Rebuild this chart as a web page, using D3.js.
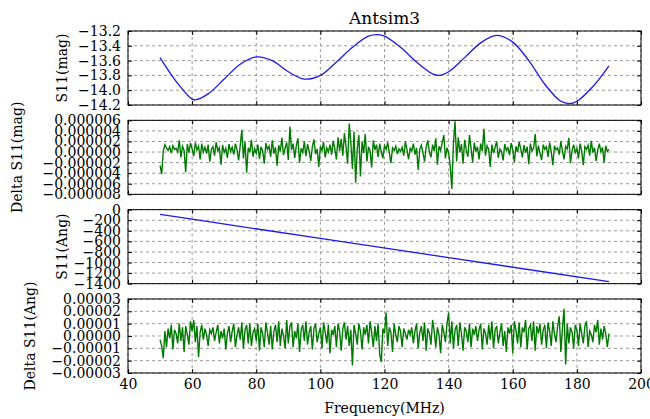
<!DOCTYPE html>
<html>
<head>
<meta charset="utf-8">
<script src="https://cdn.jsdelivr.net/npm/d3@7"></script>
<style>
  body { margin: 0; background: #fff; }
  text { font-family: "DejaVu Serif", serif; }
</style>
</head>
<body>
<div class="chart"></div>
<script>
// data
const xTicks = [40, 60, 80, 100, 120, 140, 160, 180, 200];

// S11 magnitude
const magFreq = [50, 55, 60, 61, 65, 70, 75, 80, 85, 90, 95, 100, 105, 110, 115, 118, 120, 125,
  130, 135, 137, 140, 145, 150, 155, 160, 165, 170, 175, 178, 180, 185, 190];
const magValues = [-13.56, -13.88, -14.12, -14.13, -14.05, -13.85, -13.65, -13.55, -13.60, -13.75,
  -13.85, -13.80, -13.62, -13.42, -13.27, -13.25, -13.27, -13.42, -13.62, -13.78, -13.80, -13.75,
  -13.56, -13.36, -13.26, -13.35, -13.60, -13.92, -14.15, -14.18, -14.15, -13.95, -13.67];
const magTicks = [-13.2, -13.4, -13.6, -13.8, -14.0, -14.2];

// S11 phase
const angFreq = [50, 60, 100, 140, 190];
const angValues = [-90, -181, -544, -907, -1360];
const angTicks = [0, -200, -400, -600, -800, -1000, -1200, -1400];

// residuals, sampled every 0.5 MHz from 50 to 190
const noiseFreq = d3.range(281).map(i => 50 + i * 0.5);

// Delta S11(mag), in units of 1e-6
const deltaMagE6 = [
  -2.5, -4.2, 0.2, 1.4, 0.8, 0.3, 1.0, -0.2, 1.2, 0.5, 0.7, 0.0, 2.2, -1.0, 1.1, 0.3, -3.8, 1.5, -0.1, 1.7,
  0.6, -0.8, 1.8, 0.4, 1.1, -1.4, 1.6, 0.0, 0.9, -0.3, 1.4, -1.8, 0.5, 1.0, -0.7, 1.9, 0.2, 0.8, -2.4, 1.3,
  -0.1, 0.7, -1.1, 1.5, 0.1, 0.9, -0.5, 1.6, 0.4, -1.6, 1.2, 4.2, -1.2, 2.0, -3.9, 0.8, 0.0, 2.3, -0.9, 0.6,
  -0.2, 1.4, -1.3, 1.0, 0.2, -2.2, 1.7, 0.5, 1.1, -0.9, 2.2, -0.3, 0.9, -2.6, 1.3, 0.1, 2.7, -0.6, 0.8, 1.8,
  -1.5, 4.8, 0.4, 1.6, -1.1, 1.2, 2.6, -2.0, 0.7, -0.1, 2.0, -0.8, 1.5, 0.2, -1.7, 1.0, 2.4, -0.4, 0.6, -2.8,
  1.1, 0.3, 1.9, -1.0, 0.8, 0.0, 1.4, -0.5, 2.1, 0.6, -1.4, 2.8, 0.2, 2.5, -0.7, 3.6, 1.0, -2.2, 5.4, 1.8,
  -3.2, 3.9, -5.8, 0.6, 3.2, -4.6, 2.0, -0.2, 3.4, -1.8, 1.0, 0.2, -2.9, 2.2, 0.4, 1.4, -0.9, 1.6, 0.0, -1.2,
  1.2, 0.5, 1.8, -0.1, -2.1, 0.8, 0.3, 1.1, -0.4, 0.6, 0.1, 0.9, -0.7, 2.0, 0.4, -1.4, 0.7, 0.2, 1.6, -0.5,
  0.8, -3.4, 0.5, 1.3, -0.2, -1.8, 1.0, 2.2, 0.0, -1.0, 1.4, 0.2, 2.6, -2.4, 1.1, 0.3, 1.8, 3.2, -1.2, 0.8,
  -0.1, -2.6, -7.0, 1.6, 5.8, -1.8, 2.8, 0.0, 1.5, -2.2, 2.3, 0.4, -0.9, 3.2, 0.7, -2.0, 1.8, 0.1, 1.0, -1.4,
  1.6, 0.2, 4.4, -0.7, 1.2, 0.5, -2.8, 1.4, -0.2, 0.9, 2.0, -1.1, 0.6, 0.1, -1.6, 1.5, 0.3, 0.8, -0.6, 1.7,
  0.4, -1.9, 1.1, 0.0, 1.9, 0.6, -1.0, 1.3, -0.1, 1.0, -2.3, 1.6, 0.2, 0.7, 3.4, -0.8, 1.2, -0.2, -1.5, 1.4,
  0.5, 1.0, -0.9, 1.8, 0.1, -2.5, 1.2, 0.4, 0.8, -0.5, 2.0, 0.2, -1.4, 1.1, 0.6, 2.7, -2.1, 0.3, 1.4, -0.1,
  0.7, -1.2, 1.6, 0.2, -2.5, 1.0, 0.5, 1.3, -0.7, 2.1, -0.1, 0.8, -1.7, 0.4, 1.6, 0.0, 0.9, -2.0, 1.2, 0.1,
  0.5
];
const deltaMagTicks = [6e-6, 4e-6, 2e-6, 0, -2e-6, -4e-6, -6e-6, -8e-6];

// Delta S11(Ang), in units of 1e-5
const deltaAngE5 = [
  -0.3, -0.8, -1.8, 0.4, -0.9, 0.6, -0.2, 0.9, -1.1, 0.5, 0.2, -0.6, 1.0, -0.4, 0.7, -1.3, 0.8, 0.1, -0.7, 1.2,
  0.4, 1.3, -0.5, 0.8, -1.7, 0.3, 0.9, -0.3, 0.6, 0.1, -0.8, 0.5, 0.2, 0.7, -0.4, 0.3, 0.9, -0.6, 0.4, -0.2,
  0.6, -1.1, 0.2, 0.8, -0.5, 0.4, 1.0, -0.9, 0.1, 0.7, -0.3, 1.1, -1.0, 0.5, 0.9, -0.6, 1.0, -0.8, 0.3, 0.6,
  -0.4, 1.0, -1.2, 0.7, 0.2, -0.9, 1.1, 0.3, -0.7, 0.8, -1.1, 0.4, 0.9, -0.5, 1.2, -0.8, 0.6, 0.0, -1.0, 1.3,
  -0.6, 0.8, 1.1, -0.9, 0.4, -0.2, 1.0, -1.3, 0.5, 0.9, -0.4, 1.2, -0.7, 0.3, 0.8, -1.1, 0.6, 1.0, -0.5, 0.2,
  0.7, -1.0, 1.1, 0.3, -0.6, 0.9, -1.4, 0.5, 0.1, 0.8, -0.9, 1.0, 0.4, -1.2, 0.6, 1.1, -0.3, 0.8, -0.8, 0.5,
  -2.4, 0.9, 0.2, -0.7, 1.0, 0.4, -1.1, 0.7, 0.1, 0.9, -0.6, 1.2, 0.3, -0.9, 0.8, -0.4, 1.0, -1.5, -2.1, 0.6,
  0.2, 1.9, -0.8, 0.7, 0.3, -1.3, 1.0, 0.1, -0.5, 0.8, 0.4, -0.9, 0.6, 0.2, -0.3, 0.5, 0.1, 0.7, -0.6, 0.4,
  1.0, -1.0, 0.3, 0.8, -0.4, 1.1, -1.2, 0.6, 0.2, -0.7, 1.3, 0.4, -0.9, 0.7, 0.1, -1.4, 0.9, 0.3, -0.5, 1.0,
  1.9, -0.6, 1.2, -1.0, 0.5, 0.9, -0.8, 1.1, 0.2, -1.2, 0.7, 0.4, -0.5, 1.0, -0.9, 0.6, 0.1, 0.8, -0.4, 0.5,
  1.0, -1.1, 0.6, 0.2, -0.7, 0.9, -0.3, 1.2, -1.0, 0.5, 0.8, -0.6, 0.3, 1.0, -0.8, 0.4, -1.3, 0.7, 0.2, 0.9,
  -1.4, 1.2, 0.5, -0.6, 1.1, -0.9, 0.7, 0.3, 1.3, -1.1, 0.6, 0.9, -0.4, 1.2, -1.2, 0.8, 0.2, 1.0, -0.7, 0.5,
  0.9, -1.0, 1.1, 0.4, -0.8, 1.2, 0.2, -0.5, 0.8, 1.6, -1.3, 0.6, 2.2, -2.3, 1.0, -0.6, 0.7, 0.3, -1.0, 0.9,
  0.5, -0.8, 1.0, 0.2, -0.6, 0.8, 1.2, -0.9, 0.4, 0.1, -0.5, 0.9, 0.3, 1.3, -0.7, 0.6, -0.3, 0.8, 0.2, -0.9,
  0.2
];
const deltaAngTicks = [3e-5, 2e-5, 1e-5, 0, -1e-5, -2e-5, -3e-5];

// layout
const svgWidth = 650;
const svgHeight = 419;
const plotLeft = 128;
const plotRight = 641;
const plotTop = 31;
const panelH = 74;
const panelGap = 15.33;

const minus = s => s.replace("-", "\u2212");

const panels = [
  { label: "S11(mag)", labelX: 67, color: "#1a1af0", width: 1.3, curve: d3.curveCatmullRom,
    x: magFreq, y: magValues, ticks: magTicks, domain: [-14.2, -13.2],
    fmt: d => minus(d3.format(".1f")(d)) },
  { label: "Delta S11(mag)", labelX: 22, color: "#007a00", width: 1.4, curve: d3.curveLinear,
    x: noiseFreq, y: deltaMagE6.map(v => v * 1e-6), ticks: deltaMagTicks, domain: [-8e-6, 6e-6],
    fmt: d => minus(d3.format(".6f")(d)) },
  { label: "S11(Ang)", labelX: 67, color: "#1a1af0", width: 1.3, curve: d3.curveLinear,
    x: angFreq, y: angValues, ticks: angTicks, domain: [-1400, 0],
    fmt: d => minus(d3.format("d")(d)) },
  { label: "Delta S11(Ang)", labelX: 35, color: "#007a00", width: 1.4, curve: d3.curveLinear,
    x: noiseFreq, y: deltaAngE5.map(v => v * 1e-5), ticks: deltaAngTicks, domain: [-3e-5, 3e-5],
    fmt: d => minus(d3.format(".5f")(d)) }
];

const svg = d3.select(".chart")
  .append("svg")
  .attr("width", svgWidth)
  .attr("height", svgHeight);

const xScale = d3.scaleLinear()
  .domain([40, 200])
  .range([plotLeft, plotRight]);

panels.forEach((p, i) => {
  const top = plotTop + i * (panelH + panelGap);
  const bottom = top + panelH;

  const yScale = d3.scaleLinear()
    .domain(p.domain)
    .range([bottom, top]);

  const g = svg.append("g");

  // grid
  g.selectAll(".vgrid")
    .data(xTicks)
    .enter()
    .append("line")
    .attr("x1", d => xScale(d))
    .attr("x2", d => xScale(d))
    .attr("y1", top)
    .attr("y2", bottom)
    .attr("stroke", "#9a9a9a")
    .attr("stroke-dasharray", "3,3");

  g.selectAll(".hgrid")
    .data(p.ticks)
    .enter()
    .append("line")
    .attr("x1", plotLeft)
    .attr("x2", plotRight)
    .attr("y1", d => yScale(d))
    .attr("y2", d => yScale(d))
    .attr("stroke", "#9a9a9a")
    .attr("stroke-dasharray", "3,3");

  // data line
  const line = d3.line()
    .x((d, j) => xScale(p.x[j]))
    .y(d => yScale(d))
    .curve(p.curve);

  g.append("path")
    .attr("d", line(p.y))
    .attr("fill", "none")
    .attr("stroke", p.color)
    .attr("stroke-width", p.width);

  // axes with inward ticks
  g.append("g")
    .attr("transform", `translate(${plotLeft},0)`)
    .call(d3.axisLeft(yScale).tickValues(p.ticks).tickFormat(p.fmt)
      .tickSizeInner(-4).tickSizeOuter(0).tickPadding(7));

  g.append("g")
    .attr("transform", `translate(${plotRight},0)`)
    .call(d3.axisRight(yScale).tickValues(p.ticks).tickFormat("")
      .tickSizeInner(-4).tickSizeOuter(0));

  g.append("g")
    .attr("transform", `translate(0,${top})`)
    .call(d3.axisTop(xScale).tickValues(xTicks).tickFormat("")
      .tickSizeInner(-4).tickSizeOuter(0));

  g.append("g")
    .attr("transform", `translate(0,${bottom})`)
    .call(d3.axisBottom(xScale).tickValues(xTicks)
      .tickFormat(i === panels.length - 1 ? d3.format("d") : "")
      .tickSizeInner(-4).tickSizeOuter(0).tickPadding(6));

  g.selectAll(".domain").remove();
  g.selectAll(".tick line").attr("stroke", "#000");
  g.selectAll(".tick text")
    .attr("fill", "#000")
    .style("font-size", "14px")
    .style("font-family", "'DejaVu Serif', serif");

  // frame
  g.append("rect")
    .attr("x", plotLeft)
    .attr("y", top)
    .attr("width", plotRight - plotLeft)
    .attr("height", panelH)
    .attr("fill", "none")
    .attr("stroke", "#000");

  // y label
  g.append("text")
    .attr("transform", `translate(${p.labelX},${(top + bottom) / 2}) rotate(-90)`)
    .attr("text-anchor", "middle")
    .style("font-size", "14px")
    .text(p.label);
});

// title and x label
svg.append("text")
  .attr("x", (plotLeft + plotRight) / 2)
  .attr("y", 24)
  .attr("text-anchor", "middle")
  .style("font-size", "17px")
  .text("Antsim3");

svg.append("text")
  .attr("x", (plotLeft + plotRight) / 2)
  .attr("y", 413)
  .attr("text-anchor", "middle")
  .style("font-size", "14px")
  .text("Frequency(MHz)");
</script>
</body>
</html>
